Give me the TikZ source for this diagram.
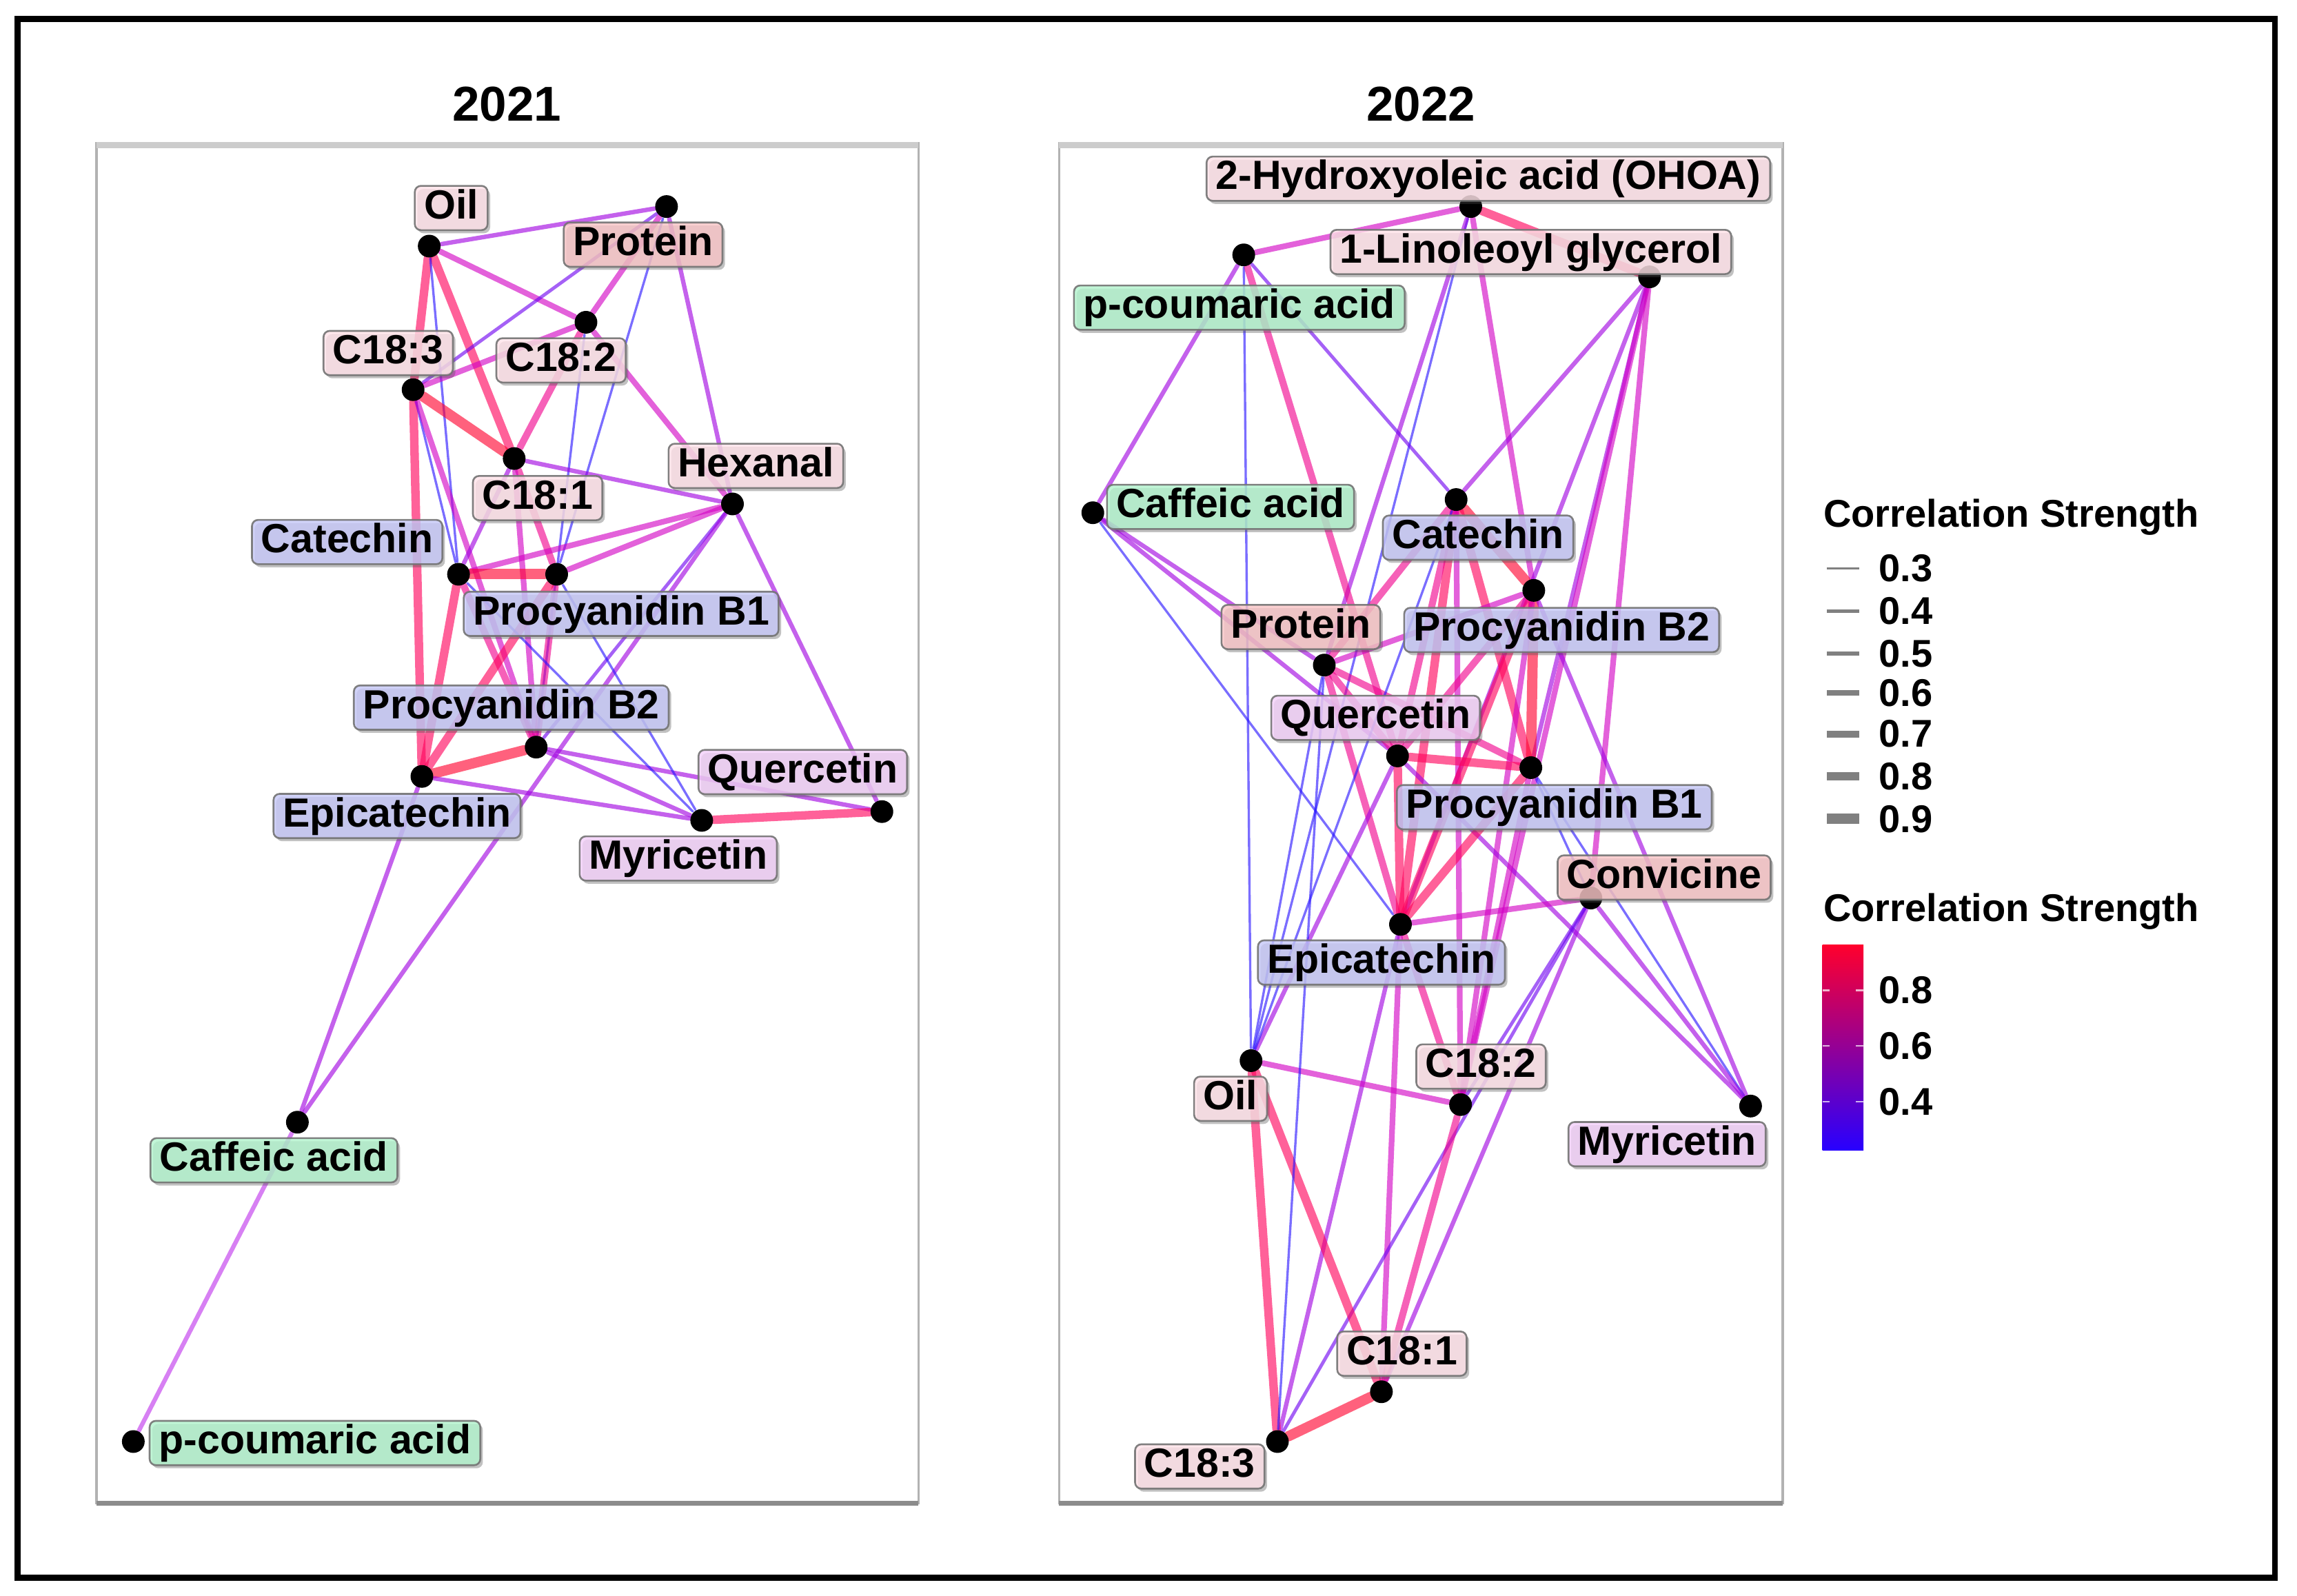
\documentclass[tikz,border=0pt]{standalone}
\usepackage{fontspec}
\setmainfont{Liberation Sans}
\usetikzlibrary{shadows}
\pgfdeclarelayer{back}
\pgfdeclarelayer{edges}
\pgfsetlayers{back,edges,main}
\definecolor{c3}{RGB}{40,20,255}
\definecolor{c4}{RGB}{110,0,240}
\definecolor{c5}{RGB}{160,0,225}
\definecolor{c6}{RGB}{210,0,195}
\definecolor{c7}{RGB}{240,0,140}
\definecolor{c8}{RGB}{255,0,90}
\definecolor{c9}{RGB}{255,0,45}
\definecolor{cv}{RGB}{190,50,235}
\definecolor{fLip}{RGB}{255,226,232}
\definecolor{fPro}{RGB}{249,196,198}
\definecolor{fFla}{RGB}{198,200,248}
\definecolor{fFlo}{RGB}{244,208,250}
\definecolor{fAci}{RGB}{178,244,205}
\newcommand\lblfont{\fontsize{7.9}{9}\selectfont\bfseries}
\newcommand\legfont{\fontsize{7.5}{9}\selectfont\bfseries}
\tikzset{
  ndot/.style={circle, fill=black, inner sep=0pt, minimum size=0.155cm},
  lbl/.style={draw=black!55, line width=0.35pt, rounded corners=1.2pt, font=\lblfont,
    inner xsep=1.8pt, inner ysep=0.6pt, text height=5.8pt, text depth=1.6pt,
    fill opacity=0.8, text opacity=1, draw opacity=0.9,
    drop shadow={shadow xshift=0.5pt, shadow yshift=-0.6pt, opacity=0.35, fill=black!70}},
  lipid/.style={lbl, fill=fLip},
  prot/.style={lbl, fill=fPro},
  flav/.style={lbl, fill=fFla},
  flavo/.style={lbl, fill=fFlo},
  acid/.style={lbl, fill=fAci},
  eb/.style={draw opacity=0.62, line cap=round},
  e3/.style={eb, draw=c3, line width=0.45pt},
  e4/.style={eb, draw=c4, line width=0.65pt},
  e5/.style={eb, draw=c5, line width=0.85pt},
  e6/.style={eb, draw=c6, line width=1.1pt},
  e7/.style={eb, draw=c7, line width=1.35pt},
  e8/.style={eb, draw=c8, line width=1.65pt},
  e9/.style={eb, draw=c9, line width=2.0pt},
  ecv/.style={eb, draw=cv, line width=0.85pt},
  panel/.style={draw=black!30, line width=0.5pt},
  ttl/.style={font=\fontsize{9.5}{11}\selectfont\bfseries},
  legt/.style={font=\legfont, anchor=west, inner sep=0pt},
  legl/.style={draw=black!50, line cap=butt}
}
\begin{document}
\begin{tikzpicture}[x=0.01cm,y=-0.01cm]
\useasboundingbox (0,0) rectangle (1568,1089);
\draw[line width=1.1pt] (12,13) rectangle (1553,1077);

% titles
\node[ttl] (t1) at (346,71) {2021};
\node[ttl] (t2) at (970,71) {2022};

% panels
\begin{pgfonlayer}{back}
\draw[panel] (66,98) rectangle (627,1026);
\draw[draw=black!20, line width=1.2pt] (66,99) -- (627,99);
\draw[draw=black!45, line width=0.9pt] (66,1026) -- (627,1026);
\draw[panel] (723,98) rectangle (1217,1026);
\draw[draw=black!20, line width=1.2pt] (723,99) -- (1217,99);
\draw[draw=black!45, line width=0.9pt] (723,1026) -- (1217,1026);
\end{pgfonlayer}

% ---------------- 2021 dots
\node[ndot] (aOil) at (293,168) {};
\node[ndot] (aPro) at (455,141) {};
\node[ndot] (aC2) at (400,220) {};
\node[ndot] (aC3) at (282,266) {};
\node[ndot] (aC1) at (351,313) {};
\node[ndot] (aHex) at (500,344) {};
\node[ndot] (aCat) at (313,392) {};
\node[ndot] (aB1) at (380,392) {};
\node[ndot] (aB2) at (366,510) {};
\node[ndot] (aEpi) at (288,530) {};
\node[ndot] (aQue) at (602,554) {};
\node[ndot] (aMyr) at (479,560) {};
\node[ndot] (aCaf) at (203,766) {};
\node[ndot] (aCou) at (91,984) {};

\begin{pgfonlayer}{edges}
\draw[e5] (aOil) -- (aPro);
\draw[e8] (aOil) -- (aC3);
\draw[e8] (aOil) -- (aC1);
\draw[e6] (aOil) -- (aC2);
\draw[e3] (aOil) -- (aCat);
\draw[e4] (aPro) -- (aC3);
\draw[e6] (aPro) -- (aC2);
\draw[e3] (aPro) -- (aB1);
\draw[e5] (aPro) -- (aHex);
\draw[e6] (aC2) -- (aC3);
\draw[e7] (aC2) -- (aC1);
\draw[e6] (aC2) -- (aHex);
\draw[e3] (aC2) -- (aB2);
\draw[e9] (aC3) -- (aC1);
\draw[e8] (aC3) -- (aEpi);
\draw[e3] (aC3) -- (aCat);
\draw[e6] (aC3) -- (aB2);
\draw[e5] (aC1) -- (aHex);
\draw[e5] (aC1) -- (aCat);
\draw[e7] (aC1) -- (aB1);
\draw[e6] (aC1) -- (aB2);
\draw[e6] (aHex) -- (aCat);
\draw[e6] (aHex) -- (aB1);
\draw[e4] (aHex) -- (aB2);
\draw[e5] (aHex) -- (aQue);
\draw[e5] (aCaf) -- (aHex);
\draw[e5] (aCaf) -- (aEpi);
\draw[ecv] (aCaf) -- (aCou);
\draw[e9] (aCat) -- (aB1);
\draw[e8] (aCat) -- (aEpi);
\draw[e7] (aCat) -- (aB2);
\draw[e7] (aB1) -- (aB2);
\draw[e8] (aB1) -- (aEpi);
\draw[e9] (aB2) -- (aEpi);
\draw[e5] (aB2) -- (aQue);
\draw[e5] (aB2) -- (aMyr);
\draw[e5] (aEpi) -- (aMyr);
\draw[e8] (aQue) -- (aMyr);
\draw[e3] (aCat) -- (aMyr);
\draw[e3] (aB1) -- (aMyr);
\end{pgfonlayer}

% 2021 labels
\node[lipid] (aOilL) at (308,142) {Oil};
\node[prot] (aProL) at (439,167) {Protein};
\node[lipid] (aC2L) at (383,246) {C18:2};
\node[lipid] (aC3L) at (265,241) {C18:3};
\node[lipid] (aC1L) at (367,340) {C18:1};
\node[lipid] (aHexL) at (516,318) {Hexanal};
\node[flav] (aCatL) at (237,370) {Catechin};
\node[flav] (aB1L) at (424,419) {Procyanidin B1};
\node[flav] (aB2L) at (349,483) {Procyanidin B2};
\node[flav] (aEpiL) at (271,557) {Epicatechin};
\node[flavo] (aQueL) at (548,527) {Quercetin};
\node[flavo] (aMyrL) at (463,586) {Myricetin};
\node[acid] (aCafL) at (187,792) {Caffeic acid};
\node[acid] (aCouL) at (215,985) {p-coumaric acid};

% ---------------- 2022 dots
\node[ndot] (bOH) at (1004,141) {};
\node[ndot] (bLG) at (1126,189) {};
\node[ndot] (bCou) at (849,174) {};
\node[ndot] (bCaf) at (746,350) {};
\node[ndot] (bCat) at (994,341) {};
\node[ndot] (bB2) at (1047,403) {};
\node[ndot] (bPro) at (904,454) {};
\node[ndot] (bQue) at (954,516) {};
\node[ndot] (bB1) at (1045,524) {};
\node[ndot] (bCon) at (1086,613) {};
\node[ndot] (bEpi) at (956,631) {};
\node[ndot] (bOil) at (854,724) {};
\node[ndot] (bC2) at (997,754) {};
\node[ndot] (bMyr) at (1195,755) {};
\node[ndot] (bC1) at (943,950) {};
\node[ndot] (bC3) at (872,984) {};

\begin{pgfonlayer}{edges}
\draw[e6] (bOH) -- (bCou);
\draw[e8] (bOH) -- (bLG);
\draw[e3] (bOH) -- (bOil);
\draw[e6] (bOH) -- (bB2);
\draw[e5] (bOH) -- (bPro);
\draw[e5] (bLG) -- (bCat);
\draw[e5] (bLG) -- (bEpi);
\draw[e5] (bLG) -- (bB1);
\draw[e6] (bLG) -- (bCon);
\draw[e6] (bLG) -- (bC2);
\draw[e5] (bCou) -- (bCaf);
\draw[e4] (bCou) -- (bCat);
\draw[e3] (bCou) -- (bOil);
\draw[e7] (bCou) -- (bQue);
\draw[e5] (bCaf) -- (bPro);
\draw[e5] (bCaf) -- (bQue);
\draw[e3] (bCaf) -- (bEpi);
\draw[e9] (bCat) -- (bB2);
\draw[e8] (bCat) -- (bEpi);
\draw[e8] (bCat) -- (bB1);
\draw[e7] (bCat) -- (bQue);
\draw[e7] (bCat) -- (bPro);
\draw[e6] (bCat) -- (bC2);
\draw[e9] (bB2) -- (bB1);
\draw[e8] (bB2) -- (bEpi);
\draw[e7] (bB2) -- (bQue);
\draw[e6] (bB2) -- (bPro);
\draw[e5] (bB2) -- (bMyr);
\draw[e6] (bB2) -- (bC2);
\draw[e7] (bPro) -- (bQue);
\draw[e7] (bPro) -- (bB1);
\draw[e7] (bPro) -- (bEpi);
\draw[e8] (bQue) -- (bB1);
\draw[e8] (bQue) -- (bEpi);
\draw[e5] (bQue) -- (bOil);
\draw[e5] (bQue) -- (bMyr);
\draw[e8] (bB1) -- (bEpi);
\draw[e3] (bB1) -- (bCon);
\draw[e3] (bB1) -- (bMyr);
\draw[e6] (bB1) -- (bC2);
\draw[e6] (bEpi) -- (bCon);
\draw[e7] (bEpi) -- (bC2);
\draw[e6] (bEpi) -- (bC1);
\draw[e5] (bEpi) -- (bC3);
\draw[e5] (bCon) -- (bMyr);
\draw[e5] (bCon) -- (bC1);
\draw[e4] (bCon) -- (bC3);
\draw[e4] (bCon) -- (bC2);
\draw[e8] (bOil) -- (bC3);
\draw[e8] (bOil) -- (bC1);
\draw[e6] (bOil) -- (bC2);
\draw[e3] (bOil) -- (bPro);
\draw[e3] (bOil) -- (bCat);
\draw[e9] (bC3) -- (bC1);
\draw[e3] (bC3) -- (bPro);
\draw[e7] (bC1) -- (bC2);
\end{pgfonlayer}

% 2022 labels
\node[lipid] (bOHL) at (1016,122) {2-Hydroxyoleic acid (OHOA)};
\node[lipid] (bLGL) at (1045,172) {1-Linoleoyl glycerol};
\node[acid] (bCouL) at (846,210) {p-coumaric acid};
\node[acid] (bCafL) at (840,346) {Caffeic acid};
\node[flav] (bCatL) at (1009,367) {Catechin};
\node[flav] (bB2L) at (1066,430) {Procyanidin B2};
\node[prot] (bProL) at (888,428) {Protein};
\node[flavo] (bQueL) at (939,490) {Quercetin};
\node[flav] (bB1L) at (1061,551) {Procyanidin B1};
\node[prot] (bConL) at (1136,599) {Convicine};
\node[flav] (bEpiL) at (943,657) {Epicatechin};
\node[lipid] (bOilL) at (840,750) {Oil};
\node[lipid] (bC2L) at (1011,728) {C18:2};
\node[flavo] (bMyrL) at (1138,781) {Myricetin};
\node[lipid] (bC1L) at (957,924) {C18:1};
\node[lipid] (bC3L) at (819,1001) {C18:3};

% ---------------- legend
\node[legt] (lg1) at (1244,353) {Correlation Strength};
\draw[legl, line width=0.45pt] (1247,388) -- (1269,388);
\draw[legl, line width=0.65pt] (1247,417) -- (1269,417);
\draw[legl, line width=0.85pt] (1247,446) -- (1269,446);
\draw[legl, line width=1.1pt] (1247,473) -- (1269,473);
\draw[legl, line width=1.35pt] (1247,501) -- (1269,501);
\draw[legl, line width=1.65pt] (1247,530) -- (1269,530);
\draw[legl, line width=2.0pt] (1247,559) -- (1269,559);
\node[legt] (n3) at (1282,388) {0.3};
\node[legt] (n4) at (1282,417) {0.4};
\node[legt] (n5) at (1282,446) {0.5};
\node[legt] (n6) at (1282,473) {0.6};
\node[legt] (n7) at (1282,501) {0.7};
\node[legt] (n8) at (1282,530) {0.8};
\node[legt] (n9) at (1282,559) {0.9};

\node[legt] (lg2) at (1244,622) {Correlation Strength};
\shade[top color={rgb,255:red,255;green,0;blue,45}, middle color={rgb,255:red,215;green,0;blue,165}, bottom color={rgb,255:red,40;green,0;blue,255}] (1244,645) rectangle (1272,785);
\foreach \yy in {676,714,752} {
  \draw[white, line width=0.3pt, opacity=0.7] (1244,\yy) -- (1249,\yy);
  \draw[white, line width=0.3pt, opacity=0.7] (1267,\yy) -- (1272,\yy);
}
\node[legt] (m8) at (1282,676) {0.8};
\node[legt] (m6) at (1282,714) {0.6};
\node[legt] (m4) at (1282,752) {0.4};
\end{tikzpicture}
\end{document}
